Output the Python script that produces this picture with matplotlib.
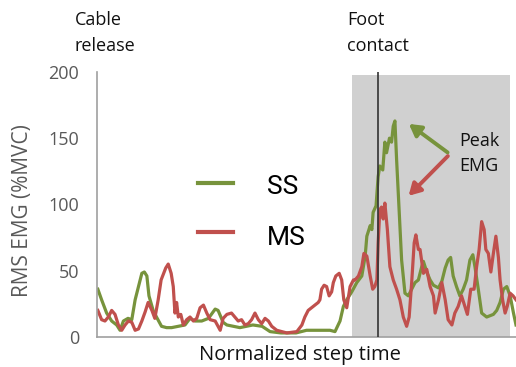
import matplotlib
matplotlib.use("Agg")
import matplotlib.pyplot as plt

# normalized step time (%) and RMS EMG (%MVC)
t_ss = [0.2, 1.1, 2.3, 3.5, 4.7, 5.5, 6.3, 7.4, 8.3, 9.1, 9.9, 10.7, 11.3, 11.9, 12.4,
        13.4, 14.2, 15.4, 16.6, 17.8, 19.4, 21.0, 22.2, 23.4, 25.0, 26.6, 28.2, 28.9,
        30.1, 31.0, 34.1, 37.2, 39.4, 41.3, 43.9, 47.5, 50.0, 52.7, 55.6, 56.8, 58.0,
        58.8, 59.6, 60.8, 62.0, 63.2, 64.0, 64.4, 65.2, 65.6, 65.9, 66.6, 67.1, 67.5,
        68.2, 68.7, 69.1, 69.8, 70.3, 70.7, 71.1, 71.5, 72.1, 72.7, 73.5, 74.3, 75.1,
        75.9, 76.7, 77.5, 77.9, 78.7, 79.5, 80.3, 81.5, 82.3, 83.1, 83.8, 84.4, 85.0,
        85.8, 86.6, 87.4, 88.2, 89.0, 89.7, 90.2, 91.0, 91.8, 93.0, 94.6, 95.4, 96.2,
        97.0, 97.8, 98.6, 99.4, 100.0]
ss = [36, 28, 18, 12, 9, 5, 12, 14, 13, 28, 38, 48, 49, 46, 31,
      20, 15, 8, 7, 7, 8, 9, 14, 12, 12, 14, 21, 20,
      11, 9, 7, 9, 8, 4, 3, 3, 5, 5, 5, 4, 12,
      23, 28, 34, 41, 46, 61, 76, 84, 81, 94, 99, 121, 129,
      126, 147, 139, 150, 147, 159, 163, 134, 96, 58, 33, 31, 36,
      41, 43, 53, 57, 49, 43, 39, 37, 42, 52, 58, 60, 46,
      38, 31, 36, 43, 58, 62, 53, 36, 18, 15, 17, 20, 26,
      36, 38, 31, 18, 9]

t_ms = [0.2, 1.1, 1.9, 2.7, 3.5, 4.3, 5.1, 5.9, 6.7, 7.5, 8.3, 9.1, 9.9, 10.7, 11.5,
        12.2, 13.1, 13.8, 14.6, 15.3, 15.8, 16.4, 17.0, 17.7, 18.2, 18.6, 19.0, 19.4,
        20.0, 20.6, 21.4, 22.2, 23.0, 23.8, 24.6, 25.4, 26.2, 27.0, 28.2, 29.4, 30.1,
        31.0, 32.1, 32.9, 33.7, 34.5, 35.3, 36.1, 36.9, 37.7, 38.5, 39.3, 40.1, 40.9,
        41.7, 42.9, 44.1, 45.3, 47.7, 48.9, 49.6, 50.4, 51.2, 52.0, 52.8, 53.2, 53.6,
        54.2, 54.8, 55.4, 56.0, 56.4, 57.0, 57.8, 58.4, 58.9, 59.6, 60.4, 61.2, 61.6,
        62.4, 63.2, 63.7, 64.4, 65.2, 65.8, 66.3, 66.8, 67.1, 67.5, 67.9, 68.3, 68.7,
        69.3, 69.9, 70.7, 71.5, 72.3, 73.1, 73.9, 74.5, 75.1, 75.7, 76.1, 76.7, 77.1,
        77.9, 78.7, 79.5, 80.3, 80.7, 81.5, 82.3, 83.1, 83.8, 84.7, 85.4, 86.2, 87.0,
        87.8, 88.4, 89.2, 90.0, 90.6, 91.2, 91.8, 92.4, 92.8, 93.4, 94.0, 94.6, 95.2,
        95.8, 96.2, 96.8, 97.4, 97.9, 98.6, 99.3, 100.0]
ms = [20, 13, 12, 15, 20, 17, 9, 5, 9, 12, 11, 5, 6, 12, 19,
      26, 20, 14, 28, 43, 47, 52, 55, 48, 38, 18, 26, 15,
      17, 9, 13, 15, 12, 14, 22, 24, 18, 13, 12, 5, 14,
      17, 18, 15, 12, 13, 9, 10, 13, 18, 13, 10, 14, 12,
      8, 5, 4, 3, 4, 9, 15, 20, 22, 24, 26, 28, 36,
      39, 38, 31, 34, 41, 46, 48, 43, 28, 22, 38, 43, 43,
      46, 53, 63, 61, 46, 36, 38, 43, 71, 96, 98, 89, 101,
      81, 53, 43, 36, 28, 15, 8, 15, 41, 71, 77, 66, 66,
      48, 51, 38, 31, 18, 28, 41, 28, 13, 9, 18, 23, 31,
      23, 17, 36, 36, 53, 66, 87, 81, 66, 63, 49, 63, 76,
      60, 43, 28, 18, 23, 33, 31, 28]

stance = (60.9, 98.6)   # shaded part after foot contact
contact = 67.1
yticks = [0, 50, 100, 150, 200]

green = "#77933c"
red = "#c0504d"
gray_txt = "#595959"
dark = "#111111"
plt.rcParams["font.family"] = ["Open Sans", "DejaVu Sans"]

fig = plt.figure(figsize=(5.16, 3.67), dpi=100)
ax = fig.add_axes([0.188, 0.082, 0.812, 0.722])

ax.axvspan(stance[0], stance[1], ymin=0, ymax=0.99, color="#d0d0d0", lw=0, zorder=0)
ax.axvline(contact, color="#333333", lw=1.2, zorder=3)
ax.plot(t_ss, ss, color=green, lw=2.3, zorder=2)
ax.plot(t_ms, ms, color=red, lw=2.3, zorder=2)

ax.set_xlim(0, 100)
ax.set_ylim(0, 200)
ax.set_yticks(yticks)
ax.set_xticks([])
ax.tick_params(axis="y", length=0, pad=13, labelsize=13, labelcolor=gray_txt)
for s in ["top", "right"]:
    ax.spines[s].set_visible(False)
for s in ["left", "bottom"]:
    ax.spines[s].set_color("#a0a0a0")
    ax.spines[s].set_linewidth(1.2)

ax.set_ylabel("RMS EMG (%MVC)", fontsize=15, color=gray_txt)
ax.yaxis.set_label_coords(-0.153, 0.475)
ax.set_xlabel("Normalized step time", fontsize=14.5, color=dark)
ax.xaxis.set_label_coords(0.484, -0.03)

# legend drawn by hand to match the loose Excel layout
lx = [24, 32.5]
ax.plot(lx, [116, 116], color=green, lw=3, clip_on=False)
ax.plot(lx, [79, 79], color=red, lw=3, clip_on=False)
ax.text(40.5, 113, "SS", fontsize=19, family="Roboto", va="center", ha="left")
ax.text(40.5, 75, "MS", fontsize=19, family="Roboto", va="center", ha="left")

# peak annotations
ax.annotate("", xy=(73.9, 162), xytext=(84.2, 138),
            arrowprops=dict(arrowstyle="-|>,head_length=0.7,head_width=0.4",
                            color=green, lw=2.8))
ax.annotate("", xy=(73.9, 105), xytext=(84.2, 138),
            arrowprops=dict(arrowstyle="-|>,head_length=0.7,head_width=0.4",
                            color=red, lw=2.8))
ax.text(86.4, 148, "Peak", fontsize=13, va="center", ha="left", color=dark)
ax.text(86.4, 129, "EMG", fontsize=13, va="center", ha="left", color=dark)

fig.text(0.145, 0.945, "Cable", fontsize=13, va="center", ha="left", color=dark)
fig.text(0.145, 0.875, "release", fontsize=13, va="center", ha="left", color=dark)
fig.text(0.672, 0.945, "Foot", fontsize=13, va="center", ha="left", color=dark)
fig.text(0.672, 0.875, "contact", fontsize=13, va="center", ha="left", color=dark)

fig.savefig("out.png", dpi=100)
